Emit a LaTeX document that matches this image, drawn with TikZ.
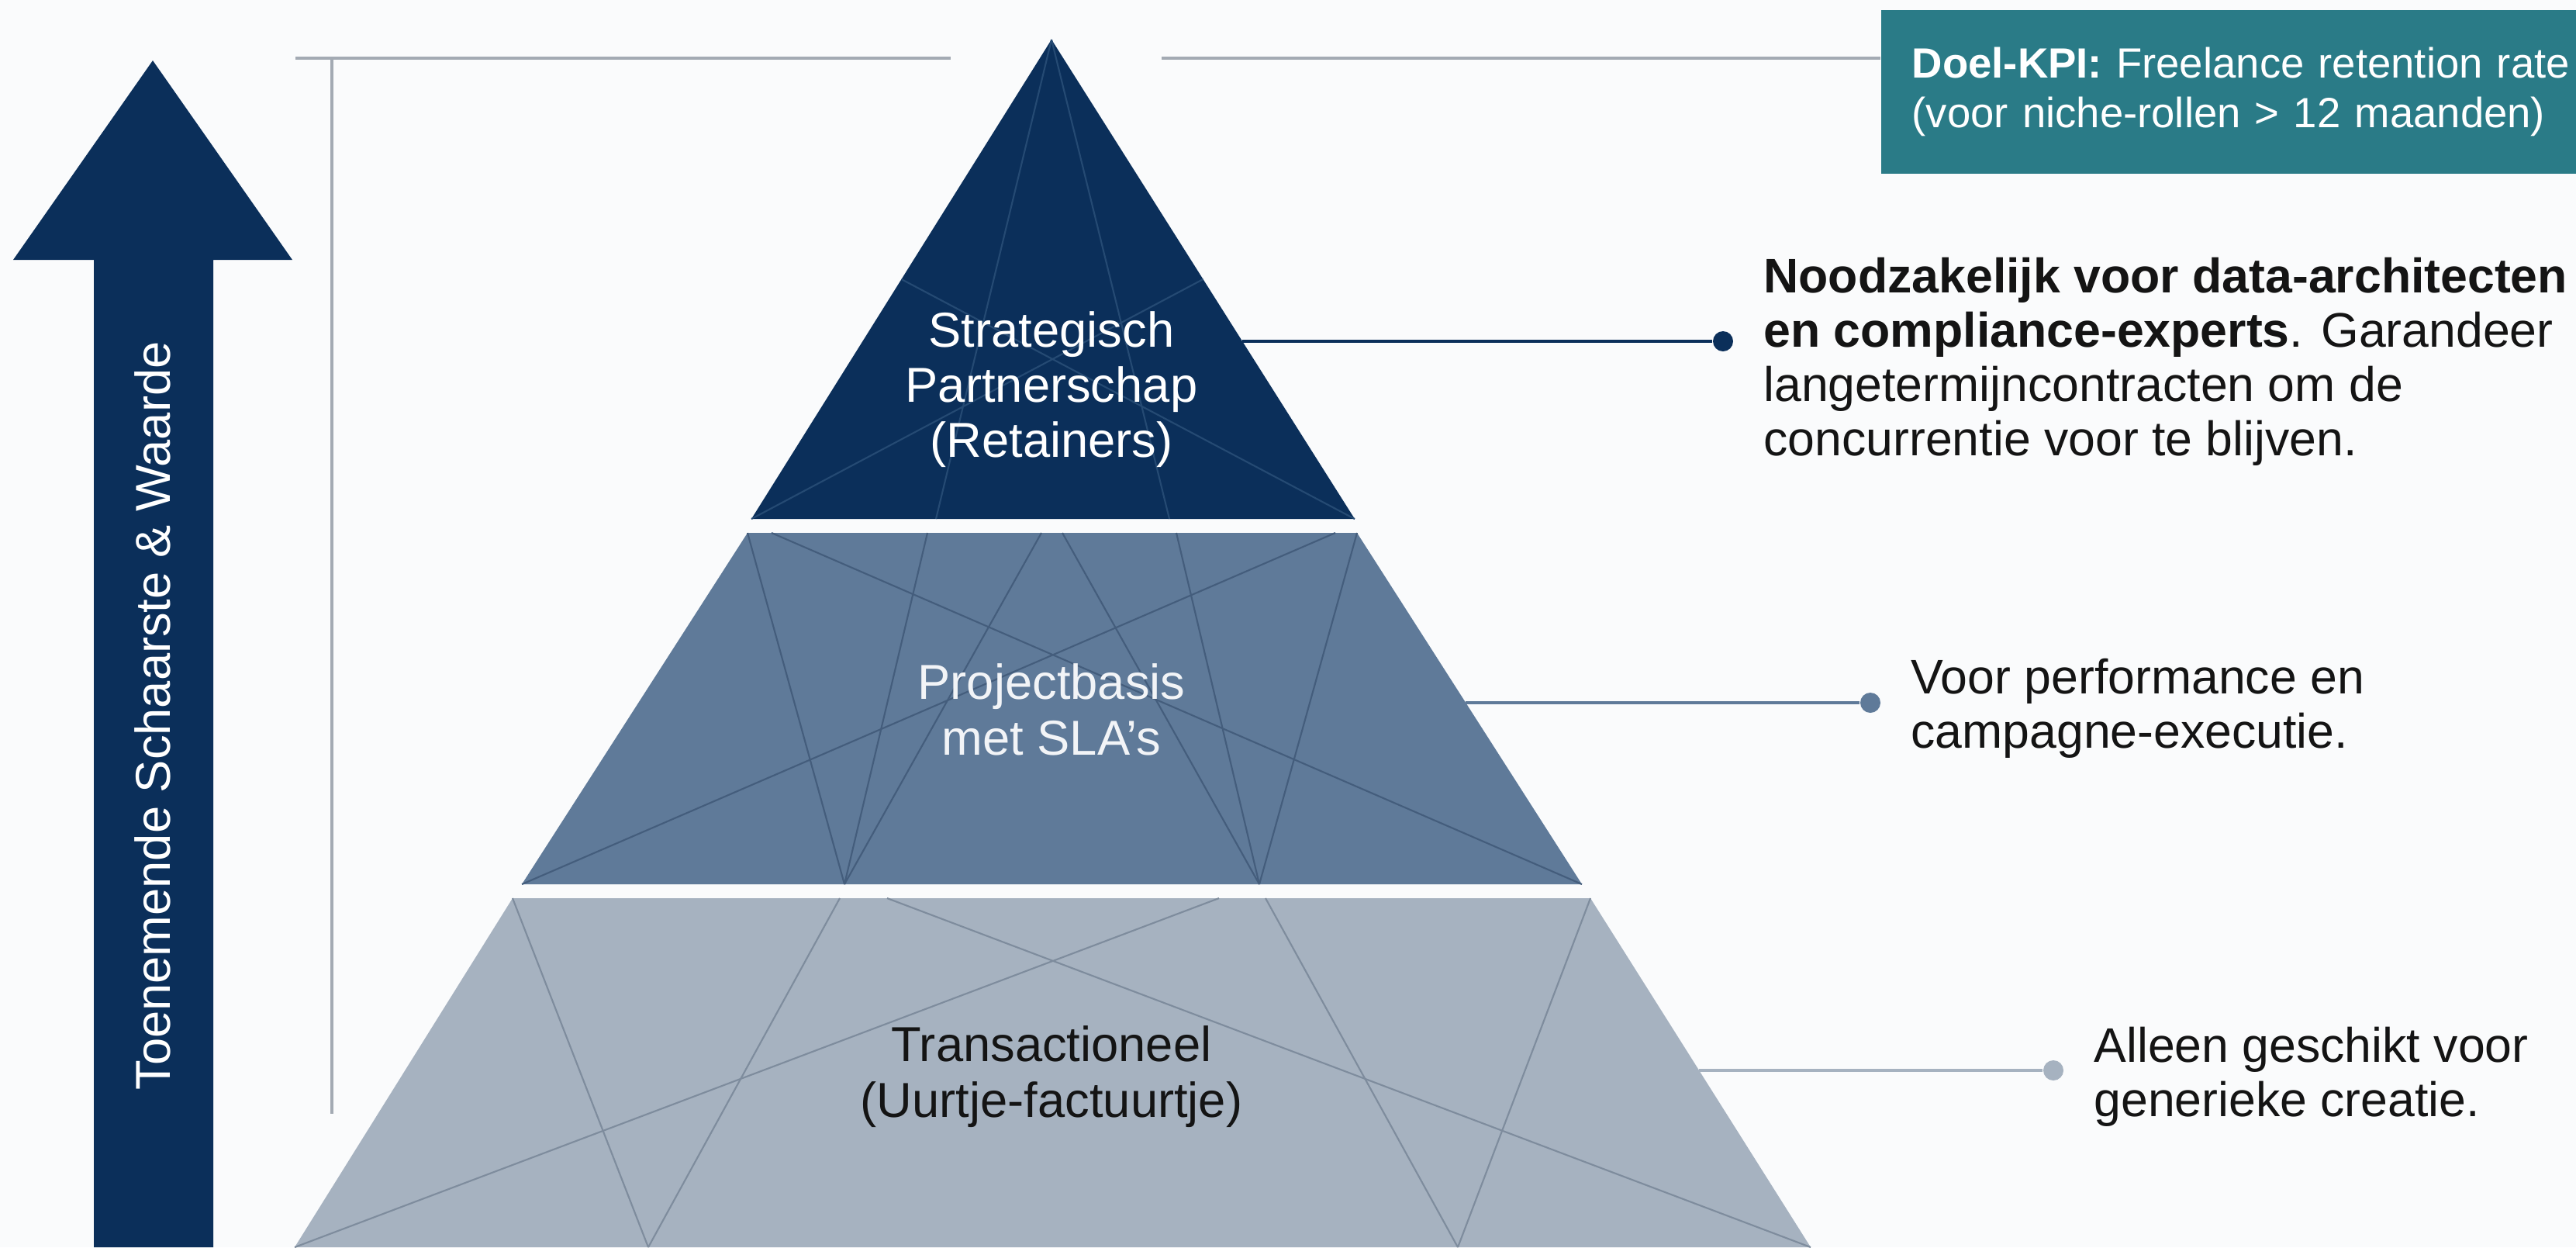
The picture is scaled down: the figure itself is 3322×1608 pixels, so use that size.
\documentclass[tikz,border=0pt]{standalone}
\usepackage{fontspec}
\setmainfont{Liberation Sans}
\usetikzlibrary{positioning,calc}
\definecolor{navy}{HTML}{0B2F5A}
\definecolor{slate}{HTML}{5F7A99}
\definecolor{mist}{HTML}{A6B2C0}
\definecolor{kpiteal}{HTML}{2A7B87}
\definecolor{rule}{HTML}{A3AAB3}
\definecolor{ink}{HTML}{141414}
\definecolor{paper}{HTML}{FAFBFC}

\begin{document}
\begin{tikzpicture}[x=0.01cm,y=-0.01cm,
                    tier/.style={align=center,inner sep=0pt,font=\fontsize{18}{20.3}\selectfont},
                    note/.style={align=left,inner sep=0pt,text=ink,font=\fontsize{17.8}{19.9}\selectfont},
                    dot/.style={circle,fill,inner sep=0pt,minimum size=0.26cm},
                    facet/.style={line width=0.6pt},
                    link/.style={line width=1.3pt}]
  \fill[paper] (0,0) rectangle (3322,1608);
  \useasboundingbox (0,0) rectangle (3322,1608);

  \fill[navy] (121,1608) -- (121,335) -- (17,335) -- (197,78) -- (377,335) -- (275,335) -- (275,1608) -- cycle;
  \node[rotate=90,text=white,font=\fontsize{18}{20}\selectfont] (A) at (197,923) {Toenemende Schaarste \& Waarde};

  \node[fill=kpiteal,text=white,anchor=north west,minimum height=2.11cm,text width=8.6cm,inner xsep=0.4cm,
        align=left,font=\fontsize{15.5}{18.3}\selectfont] (K) at (2425,12)
        {\textbf{Doel-KPI:} Freelance retention rate\\(voor niche-rollen > 12 maanden)};

  \coordinate (H0) at (381,75);
  \coordinate (H1) at (1226,75);
  \coordinate (H2) at (1498,75);
  \coordinate (V0) at (428,75);
  \coordinate (V1) at (428,1436);
  \draw[rule,line width=1pt] (H0) -- (H1) (H2) -- (K.west |- H2);
  \draw[rule,line width=1.4pt] (V0) -- (V1);

  \coordinate (T0) at (1356,51);
  \coordinate (T1) at (969,669);
  \coordinate (T2) at (1747,669);
  \fill[navy] (T0) -- (T1) -- (T2) -- cycle;
  \draw[facet,color={rgb,255:red,37;green,74;blue,115}] (T0) -- (1207,669) (T0) -- (1508,669)
    ($(T0)!.5!(T1)$) -- (T2) ($(T0)!.5!(T2)$) -- (T1);

  \coordinate (M1) at (964,687);
  \coordinate (M2) at (1750,687);
  \coordinate (M3) at (2040,1140);
  \coordinate (M4) at (673,1140);
  \fill[slate] (M1) -- (M2) -- (M3) -- (M4) -- cycle;
  \begin{scope}[facet,color={rgb,255:red,68;green,93;blue,124}]
    \draw (995,687) -- (M3) (1722,687) -- (M4);
    \foreach \x in {964,1196,1343} \draw (\x,687) -- (1089,1140);
    \foreach \x in {1370,1517,1750} \draw (\x,687) -- (1624,1140);
  \end{scope}

  \coordinate (L1) at (661,1158);
  \coordinate (L2) at (2051,1158);
  \coordinate (L3) at (2335,1608);
  \coordinate (L4) at (380,1608);
  \fill[mist] (L1) -- (L2) -- (L3) -- (L4) -- cycle;
  \begin{scope}[facet,color={rgb,255:red,126;green,140;blue,157}]
    \draw (1144,1158) -- (L3) (1572,1158) -- (L4);
    \foreach \x in {661,1083} \draw (\x,1158) -- (836,1608);
    \foreach \x in {1632,2051} \draw (\x,1158) -- (1880,1608);
  \end{scope}

  \node[tier,text=white] (P1) at (1356,502) {Strategisch\\Partnerschap\\(Retainers)};
  \node[tier,text=white!92!slate] (P2) at (1356,915) {Projectbasis\\met SLA's};
  \node[tier,text=ink] (P3) at (1356,1388) {Transactioneel\\(Uurtje-factuurtje)};

  \coordinate (E1) at (1602,440);
  \coordinate (E2) at (1890,906);
  \coordinate (E3) at (2191,1380);
  \node[dot,navy] (D1) at (2222,440) {};
  \node[dot,slate] (D2) at (2412,906) {};
  \node[dot,mist] (D3) at (2648,1380) {};
  \draw[link,navy] (E1) -- (D1);
  \draw[link,slate] (E2) -- (D2);
  \draw[link,mist] (E3) -- (D3);

  \node[note,right=0.38cm of D1,yshift=-0.26cm] (N1)
    {\textbf{Noodzakelijk voor data-architecten}\\\textbf{en compliance-experts}. Garandeer\\langetermijncontracten om de\\concurrentie voor te blijven.};
  \node[note,right=0.38cm of D2,yshift=-0.07cm] (N2) {Voor performance en\\campagne-executie.};
  \node[note,right=0.38cm of D3,yshift=-0.08cm] (N3) {Alleen geschikt voor\\generieke creatie.};
\end{tikzpicture}
\end{document}
